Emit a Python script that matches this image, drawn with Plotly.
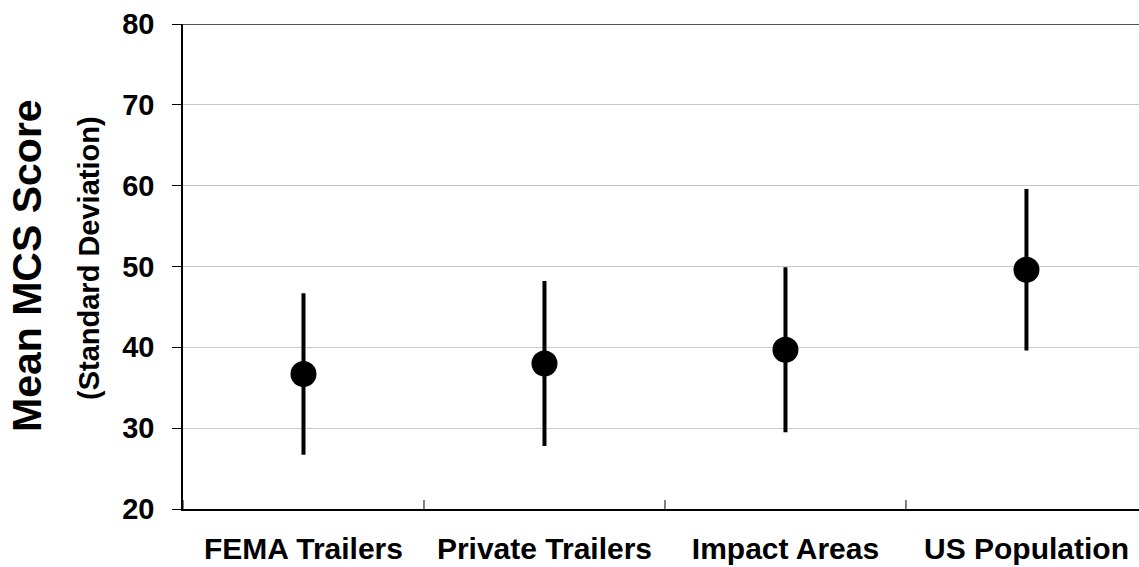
import plotly.graph_objects as go

# Mean MCS score with standard deviation, by group
categories = ["FEMA Trailers", "Private Trailers", "Impact Areas", "US Population"]
mean_mcs = [36.7, 38.0, 39.7, 49.6]
sd_mcs = [10.0, 10.2, 10.2, 10.0]
y_ticks = [20, 30, 40, 50, 60, 70, 80]

FONT = "Liberation Sans, Arial, sans-serif"
W, H = 1139, 567
ML, MT, MB = 183, 24, 58

fig = go.Figure()
fig.add_trace(go.Scatter(
    x=categories,
    y=mean_mcs,
    mode="markers",
    marker=dict(size=26, color="black"),
    error_y=dict(type="data", array=sd_mcs, visible=True,
                 color="black", thickness=4, width=0),
    showlegend=False,
    hoverinfo="skip",
))

# category separator ticks crossing the bottom axis
shapes = []
for b in [-0.5, 0.5, 1.5, 2.5]:
    shapes.append(dict(type="line", xref="x", yref="y", ysizemode="pixel",
                       yanchor=20, x0=b, x1=b, y0=-9, y1=9,
                       line=dict(color="black", width=1)))
# top border of the plot area
shapes.append(dict(type="line", xref="paper", yref="y", x0=0, x1=1, y0=80, y1=80,
                   line=dict(color="#555555", width=2)))

fig.update_layout(
    width=W, height=H,
    margin=dict(l=ML, r=0, t=MT, b=MB, pad=0, autoexpand=False),
    paper_bgcolor="white", plot_bgcolor="white",
    font=dict(family=FONT, color="black"),
    shapes=shapes,
    xaxis=dict(
        type="category",
        range=[-0.5, 3.467],
        automargin=False,
        showgrid=False, zeroline=False,
        showline=True, linecolor="black", linewidth=1.5,
        ticks="",
        tickfont=dict(family=FONT, size=30, color="black", weight="bold"),
        ticklabelstandoff=12,
    ),
    yaxis=dict(
        range=[20, 80],
        automargin=False,
        tickvals=y_ticks,
        ticktext=[str(v) for v in y_ticks],
        showgrid=True, gridcolor="#c8c8c8", gridwidth=1,
        zeroline=False,
        showline=True, linecolor="black", linewidth=1.5,
        ticks="outside", ticklen=9, tickwidth=1, tickcolor="black",
        tickfont=dict(family=FONT, size=29, color="black", weight="bold"),
        ticklabelstandoff=12,
    ),
    annotations=[
        dict(text="<b>Mean MCS Score</b>", textangle=-90,
             xref="paper", yref="paper",
             x=(27 - ML) / (W - ML), y=1 - (266 - MT) / (H - MT - MB),
             xanchor="center", yanchor="middle", showarrow=False,
             font=dict(family=FONT, size=41, color="black")),
        dict(text="<b>(Standard Deviation)</b>", textangle=-90,
             xref="paper", yref="paper",
             x=(89 - ML) / (W - ML), y=1 - (258 - MT) / (H - MT - MB),
             xanchor="center", yanchor="middle", showarrow=False,
             font=dict(family=FONT, size=29, color="black")),
    ],
)

fig.write_html("out.html", config={"displayModeBar": False})
